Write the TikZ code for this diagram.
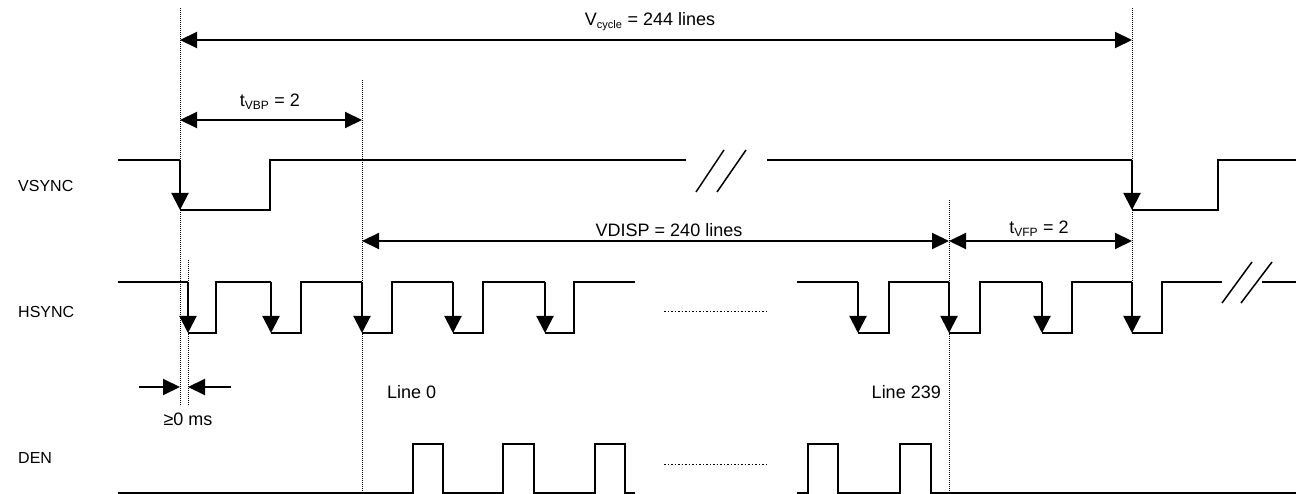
\documentclass[tikz,border=0pt]{standalone}
\usepackage{fontspec}
\setmainfont{Liberation Sans}
\usetikzlibrary{arrows.meta}
\tikzset{
    every node/.style={inner sep=0pt, font=\fontsize{18}{20}\selectfont}
}
\tikzset{
    sig/.style={line width=2pt, line join=miter},
    edge down/.style={line width=2pt, -{Triangle[length=17pt,width=17pt]}},
    dim/.style={line width=2pt, {Triangle[length=17pt,width=16pt]}-{Triangle[length=17pt,width=16pt]}},
    onedim/.style={line width=2pt, -{Triangle[length=17pt,width=16pt]}},
    marker/.style={line width=1pt, dash pattern=on 1pt off 1pt},
    dots/.style={line width=1pt, dash pattern=on 1.5pt off 2pt},
    siglabel/.style={anchor=base west, font=\fontsize{16}{18}\selectfont}
}

\begin{document}
\begin{tikzpicture}[x=1pt,y=-1pt]
	\useasboundingbox (0,0) rectangle (1296,494);

	% time marks
	\coordinate (vsa) at (180,8);
	\coordinate (hsa) at (188,260);
	\coordinate (ln0) at (362,80);
	\coordinate (ln239) at (949,200);
	\coordinate (vsb) at (1132,8);

	\draw[marker] (vsa) -- (180,405);
	\draw[marker] (hsa) -- (188,405);
	\draw[marker] (ln0) -- (362,494);
	\draw[marker] (ln239) -- (949,494);
	\draw[marker] (vsb) -- (1132,282);

	% dimension arrows
	\coordinate (cycA) at (180,40);  \coordinate (cycB) at (1132,40);
	\coordinate (vbpA) at (180,120); \coordinate (vbpB) at (362,120);
	\coordinate (dspA) at (362,241); \coordinate (dspB) at (949,241);
	\coordinate (vfpB) at (1132,241);
	\coordinate (gapL) at (139,387); \coordinate (gapR) at (231,387);
	\coordinate (gapA) at (180,387); \coordinate (gapB) at (188,387);

	\draw[dim] (cycA) -- (cycB);
	\draw[dim] (vbpA) -- (vbpB);
	\draw[dim] (dspA) -- (dspB);
	\draw[dim] (dspB) -- (vfpB);
	\draw[onedim] (gapL) -- (gapA);
	\draw[onedim] (gapR) -- (gapB);

	\node (cyc) [anchor=base] at (650,26) {V\textsubscript{\fontsize{11}{12}\selectfont cycle} = 244 lines};
	\node (vbp) [anchor=base] at (270,107) {t\textsubscript{\fontsize{12}{13}\selectfont VBP} = 2};
	\node (dsp) [anchor=base] at (669,237) {VDISP = 240 lines};
	\node (vfp) [anchor=base] at (1039,234) {t\textsubscript{\fontsize{12}{13}\selectfont VFP} = 2};
	\node (l0) [anchor=base west] at (387,398) {Line 0};
	\node (l239) [anchor=base east] at (941,398) {Line 239};
	\node (gap) [anchor=base] at (188,425) {≥0 ms};

	\node (vs) [siglabel] at (18,192) {VSYNC};
	\node (hs) [siglabel] at (18,318) {HSYNC};
	\node (den) [siglabel] at (18,463) {DEN};

	% VSYNC
	\draw[sig] (118,160) -- (180,160);
	\draw[edge down] (180,160) -- (180,210);
	\draw[sig] (180,210) -- (270,210) -- (270,160) -- (686,160);
	\draw[sig, line width=1.5pt] (696,192) -- (724,150);
	\draw[sig, line width=1.5pt] (717,192) -- (746,150);
	\draw[sig] (767,160) -- (1132,160);
	\draw[edge down] (1132,160) -- (1132,210);
	\draw[sig] (1132,210) -- (1218,210) -- (1218,160) -- (1296,160);

	% HSYNC
	\draw[sig] (118,282) -- (188,282);
	\draw[edge down] (188,282) -- (188,333);
	\draw[sig] (188,333) -- (216,333) -- (216,282) -- (271,282);
	\draw[edge down] (271,282) -- (271,333);
	\draw[sig] (271,333) -- (301,333) -- (301,282) -- (362,282);
	\draw[edge down] (362,282) -- (362,333);
	\draw[sig] (362,333) -- (392,333) -- (392,282) -- (453,282);
	\draw[edge down] (453,282) -- (453,333);
	\draw[sig] (453,333) -- (483,333) -- (483,282) -- (545,282);
	\draw[edge down] (545,282) -- (545,333);
	\draw[sig] (545,333) -- (574,333) -- (574,282) -- (635,282);
	\draw[dots] (664,312) -- (767,312);
	\draw[sig] (797,282) -- (858,282);
	\draw[edge down] (858,282) -- (858,333);
	\draw[sig] (858,333) -- (889,333) -- (889,282) -- (949,282);
	\draw[edge down] (949,282) -- (949,333);
	\draw[sig] (949,333) -- (980,333) -- (980,282) -- (1042,282);
	\draw[edge down] (1042,282) -- (1042,333);
	\draw[sig] (1042,333) -- (1072,333) -- (1072,282) -- (1132,282);
	\draw[edge down] (1132,282) -- (1132,333);
	\draw[sig] (1132,333) -- (1162,333) -- (1162,282) -- (1222,282);
	\draw[sig, line width=1.5pt] (1222,303) -- (1252,262);
	\draw[sig, line width=1.5pt] (1241,303) -- (1272,262);
	\draw[sig] (1262,282) -- (1296,282);

	% DEN
	\draw[sig] (118,493) -- (413,493) -- (413,444) -- (443,444) -- (443,493)
		-- (503,493) -- (503,444) -- (534,444) -- (534,493)
		-- (595,493) -- (595,444) -- (625,444) -- (625,493) -- (635,493);
	\draw[dots] (664,464) -- (767,464);
	\draw[sig] (797,493) -- (808,493) -- (808,444) -- (838,444) -- (838,493)
		-- (900,493) -- (900,444) -- (931,444) -- (931,493) -- (1296,493);
\end{tikzpicture}
\end{document}
